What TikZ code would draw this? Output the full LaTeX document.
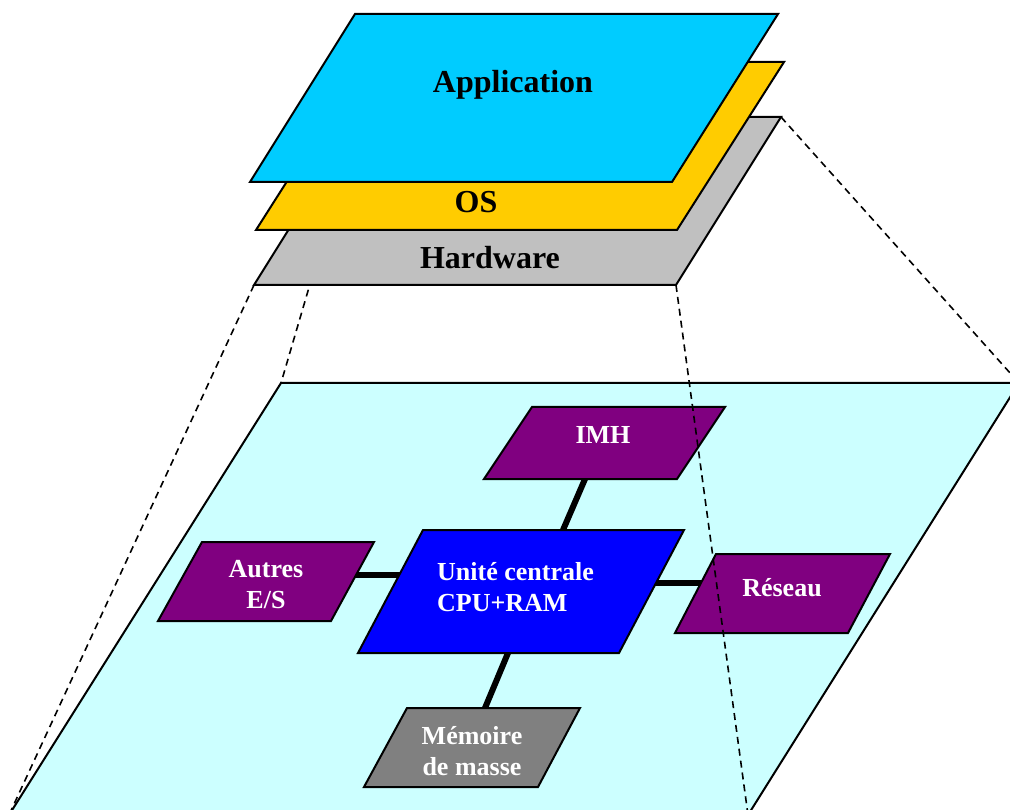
\documentclass[tikz,border=0pt]{standalone}
\usepackage{fontspec}
\setmainfont{Liberation Serif}
\definecolor{appc}{HTML}{00CCFF}
\definecolor{osc}{HTML}{FFCC00}
\definecolor{hwc}{HTML}{C0C0C0}
\definecolor{boardc}{HTML}{CCFFFF}
\definecolor{periphc}{HTML}{800080}
\definecolor{cpuc}{HTML}{0000FF}
\definecolor{storec}{HTML}{808080}
\begin{document}
\begin{tikzpicture}[x=1pt,y=-1pt,
  layer/.style={draw=black, line width=2pt, line join=miter},
  unit/.style={draw=black, line width=2pt, line join=miter},
  link/.style={line width=6pt, line cap=butt},
  proj/.style={line width=1.6pt, dash pattern=on 7pt off 5pt},
  bigtxt/.style={font=\fontsize{32}{38}\selectfont\bfseries, text=black, inner sep=0pt},
  boxtxt/.style={font=\fontsize{26}{31}\selectfont\bfseries, text=white, align=center, inner sep=0pt},
]
\useasboundingbox (0,0) rectangle (1010,810);
\clip (0,0) rectangle (1010,810);

% corners of the board plane
\coordinate (pTL) at (281,383);
\coordinate (pTR) at (1019,383);
\coordinate (pBR) at (748,815);
\coordinate (pBL) at (9,815);

% corners of the hardware layer
\coordinate (hwTL) at (359,117);
\coordinate (hwTR) at (781,117);
\coordinate (hwBR) at (676,285);
\coordinate (hwBL) at (254,285);

% board plane
\draw[layer, fill=boardc] (pTL) -- (pTR) -- (pBR) -- (pBL) -- cycle;

% connector end points
\coordinate (imhS) at (585,479);
\coordinate (cpuN) at (563,530);
\coordinate (autE) at (355,575);
\coordinate (cpuW) at (400,575);
\coordinate (cpuE) at (655,583);
\coordinate (resW) at (702,583);
\coordinate (cpuS) at (508,653);
\coordinate (memN) at (485,708);

% buses between the central unit and the peripherals
\draw[link] (imhS) -- (cpuN);
\draw[link] (autE) -- (cpuW);
\draw[link] (cpuE) -- (resW);
\draw[link] (cpuS) -- (memN);

% components
\draw[unit, fill=periphc] (532,407) -- (725,407) -- (677,479) -- (484,479) -- cycle;
\draw[unit, fill=cpuc] (423,530) -- (684,530) -- (619,653) -- (358,653) -- cycle;
\draw[unit, fill=periphc] (202,542) -- (374,542) -- (331,621) -- (158,621) -- cycle;
\draw[unit, fill=periphc] (716,554) -- (890,554) -- (848,633) -- (675,633) -- cycle;
\draw[unit, fill=storec] (407,708) -- (580,708) -- (538,787) -- (364,787) -- cycle;

\node[boxtxt] (imh) at (603,435) {IMH};
\node[boxtxt, align=left, anchor=west] (cpu) at (437,587) {Unité centrale\\CPU+RAM};
\node[boxtxt] (autres) at (266,585) {Autres\\E/S};
\node[boxtxt] (reseau) at (782,588) {Réseau};
\node[boxtxt] (memoire) at (472,751) {Mémoire\\de masse};

% projection of the hardware layer onto the board
\draw[proj] (hwBL) -- (pBL);
\draw[proj] (hwTL) -- (pTL);
\draw[proj] (hwTR) -- (pTR);
\draw[proj] (hwBR) -- (pBR);

% software stack
\draw[layer, fill=hwc] (hwTL) -- (hwTR) -- (hwBR) -- (hwBL) -- cycle;
\draw[layer, fill=osc] (363,62) -- (784,62) -- (677,230) -- (256,230) -- cycle;
\draw[layer, fill=appc] (355,14) -- (778,14) -- (672,182) -- (250,182) -- cycle;

\node[bigtxt] (app) at (513,85) {Application};
\node[bigtxt] (os) at (476,202) {OS};
\node[bigtxt] (hw) at (490,258) {Hardware};
\end{tikzpicture}
\end{document}
